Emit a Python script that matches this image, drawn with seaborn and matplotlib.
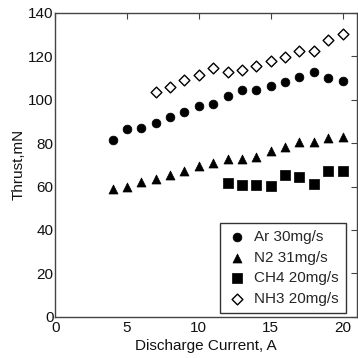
import numpy as np
import pandas as pd
import matplotlib.pyplot as plt
import seaborn as sns

sns.set_style("white")
plt.rcParams['font.family'] = ['Liberation Sans', 'DejaVu Sans']

# data
ar_x = [4, 5, 6, 7, 8, 9, 10, 11, 12, 13, 14, 15, 16, 17, 18, 19, 20]
ar_y = [81.5, 86.3, 86.8, 89.5, 92.0, 94.3, 96.9, 98.0, 101.8, 104.3, 104.3, 106.5, 108.0, 110.5, 112.6, 110.2, 108.5]

n2_x = [4, 5, 6, 7, 8, 9, 10, 11, 12, 13, 14, 15, 16, 17, 18, 19, 20]
n2_y = [59.0, 60.0, 62.3, 63.4, 65.2, 67.2, 69.5, 70.7, 72.7, 72.5, 73.7, 76.2, 78.2, 80.6, 80.3, 82.2, 82.8]

ch4_x = [12, 13, 14, 15, 16, 17, 18, 19, 20]
ch4_y = [61.7, 60.6, 60.9, 60.3, 65.4, 64.5, 61.3, 67.4, 67.3]

nh3_x = [7, 8, 9, 10, 11, 12, 13, 14, 15, 16, 17, 18, 19, 20]
nh3_y = [103.4, 106.0, 108.9, 111.4, 114.8, 112.8, 113.8, 115.7, 118.0, 119.7, 122.3, 122.5, 127.4, 130.3]

labels = ["Ar 30mg/s", "N2 31mg/s", "CH4 20mg/s", "NH3 20mg/s"]

fig = plt.figure(figsize=(3.58, 3.58), dpi=100)
ax = fig.add_axes([0.154, 0.115, 0.843, 0.849])

sns.scatterplot(x=ar_x, y=ar_y, ax=ax, marker="o", s=40, color="black",
                edgecolor="black", linewidth=0.5, label=labels[0])
sns.scatterplot(x=n2_x, y=n2_y, ax=ax, marker="^", s=42, color="black",
                edgecolor="black", linewidth=0.5, label=labels[1])
sns.scatterplot(x=ch4_x, y=ch4_y, ax=ax, marker="s", s=42, color="black",
                edgecolor="black", linewidth=0.5, label=labels[2])
sns.scatterplot(x=nh3_x, y=nh3_y, ax=ax, marker="D", s=30, color="white",
                edgecolor="black", linewidth=1.0, label=labels[3])

ax.set_xlim(0, 21)
ax.set_ylim(0, 140)
ax.set_xticks([0, 5, 10, 15, 20])
ax.set_yticks([0, 20, 40, 60, 80, 100, 120, 140])
ax.tick_params(direction="in", length=4, top=True, right=True, labelsize=11,
               color="#444444", labelcolor="#111111")
ax.tick_params(axis="x", pad=3)
ax.tick_params(axis="y", pad=1)
for s in ax.spines.values():
    s.set_color("#444444")
    s.set_linewidth(1.0)

ax.set_xlabel("Discharge Current, A", fontsize=11, labelpad=3, color="#111111")
ax.set_ylabel("Thrust,mN", fontsize=11, labelpad=2, color="#111111")

leg = ax.legend(loc="lower right", bbox_to_anchor=(0.965, 0.012), fontsize=11,
                frameon=True, fancybox=False, edgecolor="black", borderpad=0.5,
                handletextpad=0.5, labelspacing=0.42, handlelength=1.2,
                borderaxespad=0.0)
leg.get_frame().set_linewidth(1.0)

fig.savefig("out.png", dpi=100)
